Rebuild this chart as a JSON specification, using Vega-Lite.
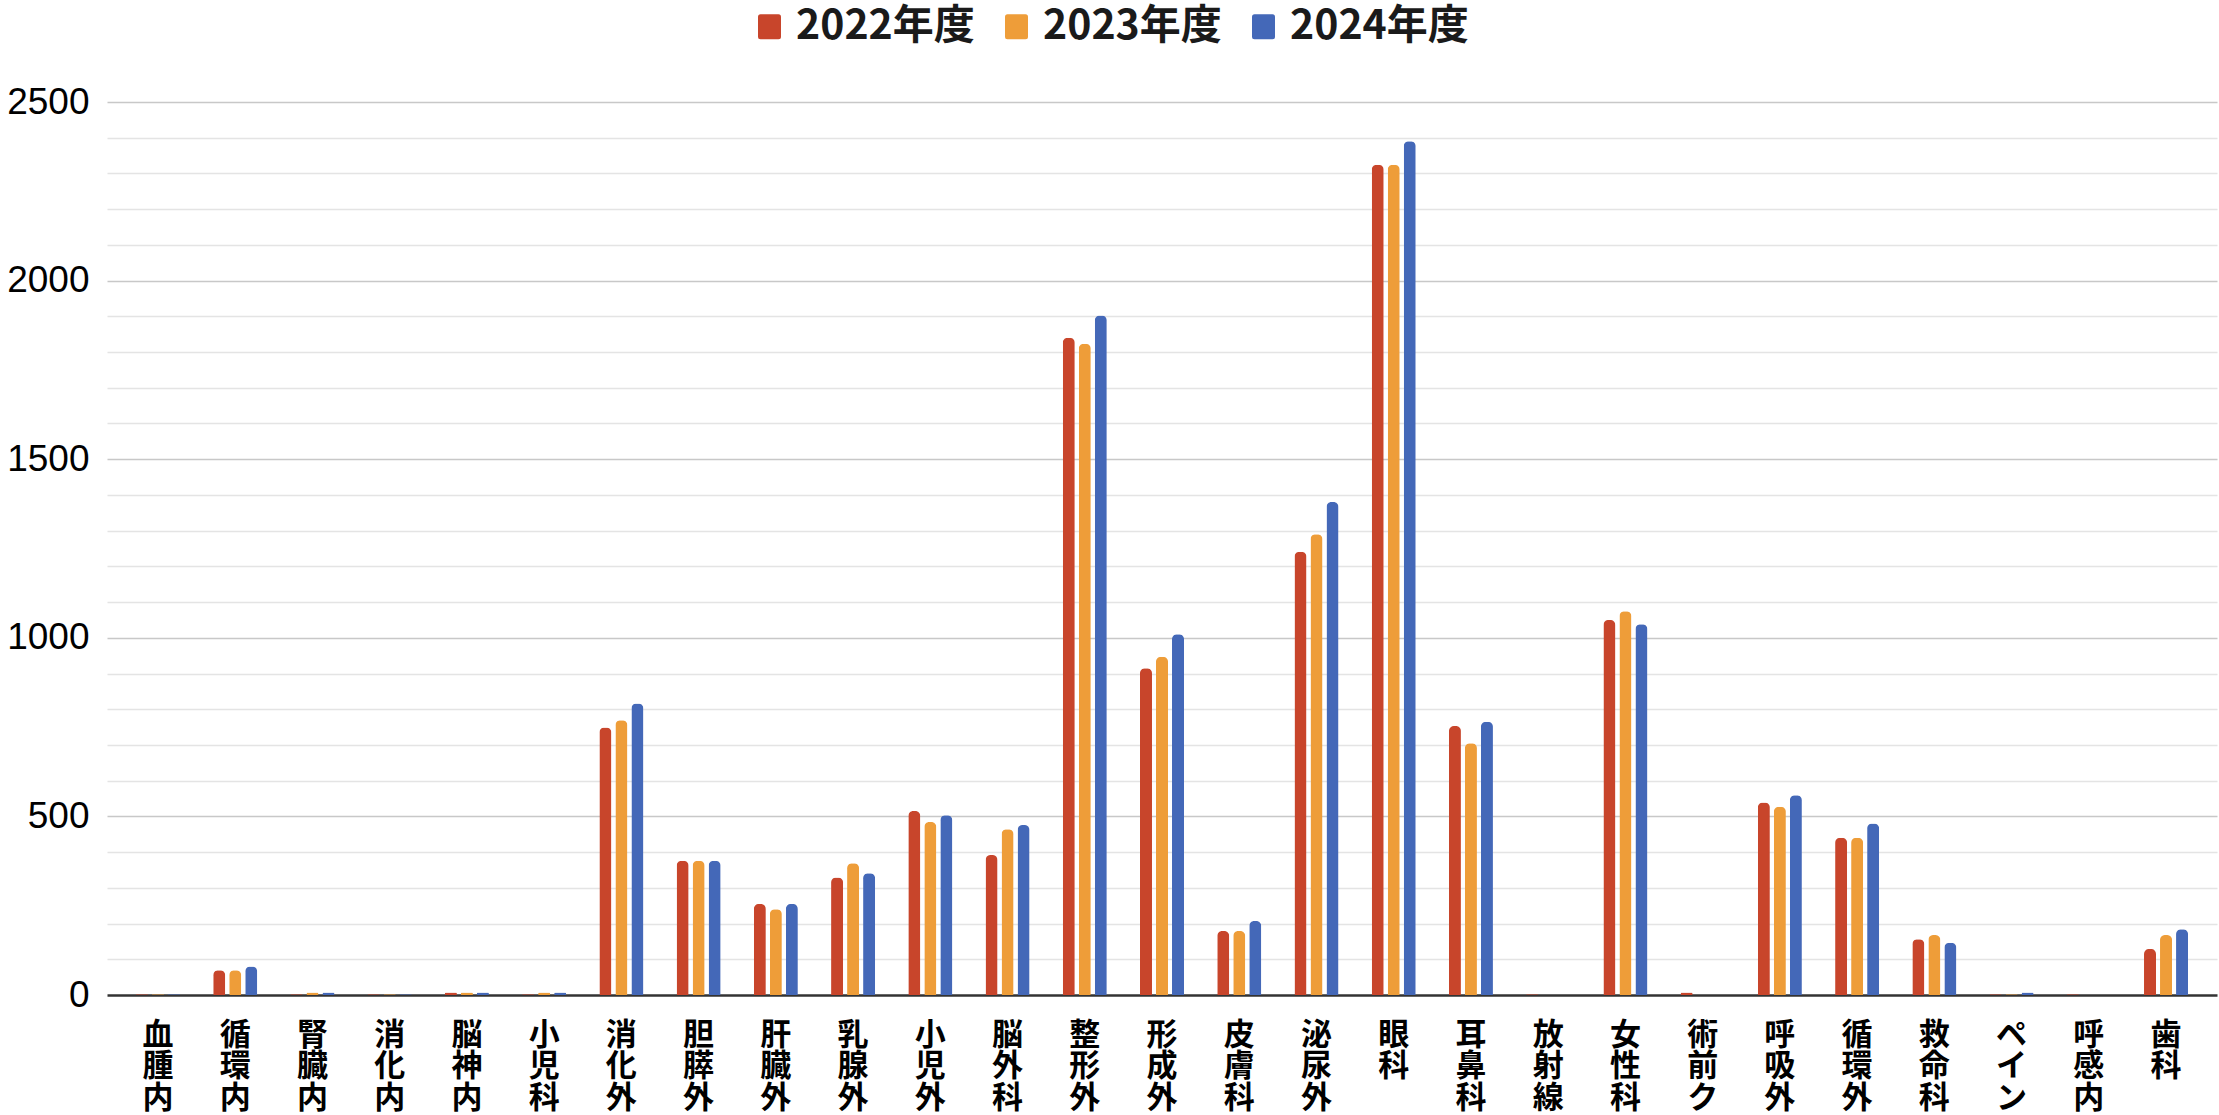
{
  "$schema": "https://vega.github.io/schema/vega-lite/v6.json",
  "width": 2110,
  "height": 893,
  "autosize": {"type": "none"},
  "padding": {"left": 107, "top": 102, "right": 2, "bottom": 120},
  "background": "white",
  "data": {"values": [
    {"dept": "血腫内", "year": "2022年度", "value": 2},
    {"dept": "血腫内", "year": "2023年度", "value": 2},
    {"dept": "血腫内", "year": "2024年度", "value": 2},
    {"dept": "循環内", "year": "2022年度", "value": 69},
    {"dept": "循環内", "year": "2023年度", "value": 69},
    {"dept": "循環内", "year": "2024年度", "value": 80},
    {"dept": "腎臓内", "year": "2022年度", "value": 2},
    {"dept": "腎臓内", "year": "2023年度", "value": 7},
    {"dept": "腎臓内", "year": "2024年度", "value": 7},
    {"dept": "消化内", "year": "2022年度", "value": 2},
    {"dept": "消化内", "year": "2023年度", "value": 2},
    {"dept": "消化内", "year": "2024年度", "value": 2},
    {"dept": "脳神内", "year": "2022年度", "value": 7},
    {"dept": "脳神内", "year": "2023年度", "value": 7},
    {"dept": "脳神内", "year": "2024年度", "value": 7},
    {"dept": "小児科", "year": "2022年度", "value": 2},
    {"dept": "小児科", "year": "2023年度", "value": 7},
    {"dept": "小児科", "year": "2024年度", "value": 7},
    {"dept": "消化外", "year": "2022年度", "value": 749},
    {"dept": "消化外", "year": "2023年度", "value": 769},
    {"dept": "消化外", "year": "2024年度", "value": 816},
    {"dept": "胆膵外", "year": "2022年度", "value": 376},
    {"dept": "胆膵外", "year": "2023年度", "value": 376},
    {"dept": "胆膵外", "year": "2024年度", "value": 376},
    {"dept": "肝臓外", "year": "2022年度", "value": 255},
    {"dept": "肝臓外", "year": "2023年度", "value": 240},
    {"dept": "肝臓外", "year": "2024年度", "value": 255},
    {"dept": "乳腺外", "year": "2022年度", "value": 329},
    {"dept": "乳腺外", "year": "2023年度", "value": 369},
    {"dept": "乳腺外", "year": "2024年度", "value": 341},
    {"dept": "小児外", "year": "2022年度", "value": 515},
    {"dept": "小児外", "year": "2023年度", "value": 484},
    {"dept": "小児外", "year": "2024年度", "value": 503},
    {"dept": "脳外科", "year": "2022年度", "value": 392},
    {"dept": "脳外科", "year": "2023年度", "value": 464},
    {"dept": "脳外科", "year": "2024年度", "value": 476},
    {"dept": "整形外", "year": "2022年度", "value": 1840},
    {"dept": "整形外", "year": "2023年度", "value": 1823},
    {"dept": "整形外", "year": "2024年度", "value": 1902},
    {"dept": "形成外", "year": "2022年度", "value": 915},
    {"dept": "形成外", "year": "2023年度", "value": 947},
    {"dept": "形成外", "year": "2024年度", "value": 1010},
    {"dept": "皮膚科", "year": "2022年度", "value": 179},
    {"dept": "皮膚科", "year": "2023年度", "value": 179},
    {"dept": "皮膚科", "year": "2024年度", "value": 207},
    {"dept": "泌尿外", "year": "2022年度", "value": 1241},
    {"dept": "泌尿外", "year": "2023年度", "value": 1290},
    {"dept": "泌尿外", "year": "2024年度", "value": 1380},
    {"dept": "眼科", "year": "2022年度", "value": 2324},
    {"dept": "眼科", "year": "2023年度", "value": 2324},
    {"dept": "眼科", "year": "2024年度", "value": 2390},
    {"dept": "耳鼻科", "year": "2022年度", "value": 753},
    {"dept": "耳鼻科", "year": "2023年度", "value": 705},
    {"dept": "耳鼻科", "year": "2024年度", "value": 765},
    {"dept": "放射線", "year": "2022年度", "value": 2},
    {"dept": "放射線", "year": "2023年度", "value": 0},
    {"dept": "放射線", "year": "2024年度", "value": 0},
    {"dept": "女性科", "year": "2022年度", "value": 1050},
    {"dept": "女性科", "year": "2023年度", "value": 1074},
    {"dept": "女性科", "year": "2024年度", "value": 1038},
    {"dept": "術前ク", "year": "2022年度", "value": 7},
    {"dept": "術前ク", "year": "2023年度", "value": 0},
    {"dept": "術前ク", "year": "2024年度", "value": 0},
    {"dept": "呼吸外", "year": "2022年度", "value": 539},
    {"dept": "呼吸外", "year": "2023年度", "value": 527},
    {"dept": "呼吸外", "year": "2024年度", "value": 559},
    {"dept": "循環外", "year": "2022年度", "value": 440},
    {"dept": "循環外", "year": "2023年度", "value": 440},
    {"dept": "循環外", "year": "2024年度", "value": 480},
    {"dept": "救命科", "year": "2022年度", "value": 156},
    {"dept": "救命科", "year": "2023年度", "value": 168},
    {"dept": "救命科", "year": "2024年度", "value": 146},
    {"dept": "ペイン", "year": "2022年度", "value": 2},
    {"dept": "ペイン", "year": "2023年度", "value": 2},
    {"dept": "ペイン", "year": "2024年度", "value": 7},
    {"dept": "呼感内", "year": "2022年度", "value": 2},
    {"dept": "呼感内", "year": "2023年度", "value": 0},
    {"dept": "呼感内", "year": "2024年度", "value": 0},
    {"dept": "歯科", "year": "2022年度", "value": 129},
    {"dept": "歯科", "year": "2023年度", "value": 168},
    {"dept": "歯科", "year": "2024年度", "value": 184}
  ]},
  "mark": {"type": "bar", "cornerRadiusTopLeft": 5, "cornerRadiusTopRight": 5},
  "encoding": {
    "x": {
      "field": "dept", "type": "nominal", "sort": null, "title": null,
      "scale": {"paddingInner": 0.43, "paddingOuter": 0.375},
      "axis": {
        "labelAngle": 0,
        "labelExpr": "split(datum.label, '')",
        "labelFont": "Noto Sans CJK JP",
        "labelFontSize": 31,
        "labelFontWeight": "bold",
        "labelLineHeight": 31.5,
        "labelBaseline": "top",
        "labelPadding": 25,
        "labelColor": "#000000",
        "labelOverlap": false,
        "ticks": false,
        "domainColor": "#333333",
        "domainWidth": 2.5,
        "zindex": 0
      }
    },
    "xOffset": {"field": "year", "type": "nominal", "scale": {"paddingInner": 0.25, "paddingOuter": 0}},
    "y": {
      "field": "value", "type": "quantitative", "title": null,
      "scale": {"domain": [0, 2500], "nice": false},
      "axis": {
        "values": [0, 100, 200, 300, 400, 500, 600, 700, 800, 900, 1000, 1100, 1200, 1300, 1400, 1500, 1600, 1700, 1800, 1900, 2000, 2100, 2200, 2300, 2400, 2500],
        "labelExpr": "datum.value % 500 === 0 ? datum.label : ''",
        "format": "d",
        "labelFont": "Liberation Sans",
        "labelFontSize": 37,
        "labelPadding": 18,
        "labelColor": "#000000",
        "labelOverlap": false,
        "ticks": false,
        "domain": false,
        "gridColor": {"condition": {"test": "datum.value % 500 === 0", "value": "#c8c8c8"}, "value": "#e4e4e4"},
        "gridOpacity": {"condition": {"test": "datum.value === 0", "value": 0}, "value": 1},
        "gridWidth": 1.5,
        "zindex": 0
      }
    },
    "color": {
      "field": "year", "type": "nominal",
      "scale": {"domain": ["2022年度", "2023年度", "2024年度"], "range": ["#C8452B", "#EE9D39", "#4468B8"]},
      "legend": {
        "orient": "none",
        "legendX": 642,
        "legendY": -96,
        "direction": "horizontal",
        "title": null,
        "symbolType": "M-0.92,-0.8Q-0.92,-1,-0.72,-1L0.72,-1Q0.92,-1,0.92,-0.8L0.92,0.8Q0.92,1,0.72,1L-0.72,1Q-0.92,1,-0.92,0.8Z",
        "symbolSize": 625,
        "symbolStrokeWidth": 0,
        "symbolOpacity": 1,
        "labelFont": "Noto Sans CJK JP",
        "labelFontSize": 41,
        "labelFontWeight": "bold",
        "labelColor": "#1a1a1a",
        "labelOffset": 6,
        "columnPadding": 21,
        "labelLimit": 0,
        "padding": 0
      }
    }
  },
  "config": {"view": {"stroke": null}}
}
